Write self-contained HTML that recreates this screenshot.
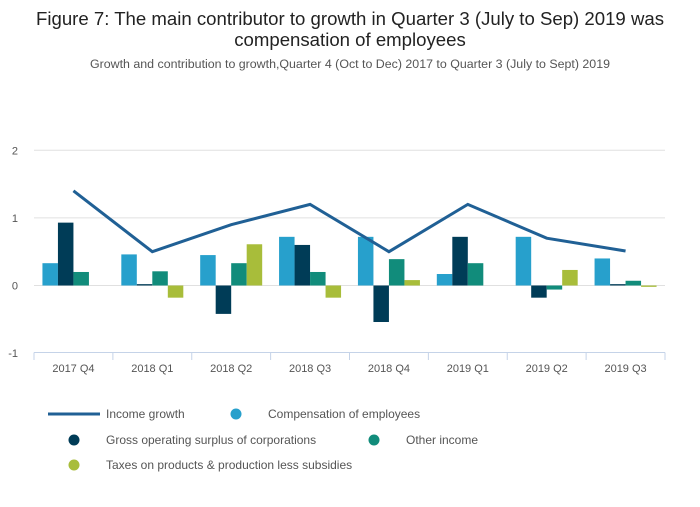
<!DOCTYPE html>
<html><head><meta charset="utf-8"><style>
body{margin:0;background:#fff;font-family:"Liberation Sans",sans-serif;}
svg text{font-family:"Liberation Sans",sans-serif;}
</style></head><body>
<svg id="c" width="700" height="502">
<text x="350" y="25" text-anchor="middle" font-size="18.6" fill="#222">Figure 7: The main contributor to growth in Quarter 3 (July to Sep) 2019 was</text>
<text x="350" y="46" text-anchor="middle" font-size="18.6" fill="#222">compensation of employees</text>
<text x="350" y="68" text-anchor="middle" font-size="12.4" fill="#555">Growth and contribution to growth,Quarter 4 (Oct to Dec) 2017 to Quarter 3 (July to Sept) 2019</text>
<g id="plot"></g>
<g id="legend">
<line x1="48" y1="414" x2="100" y2="414" stroke="#206095" stroke-width="3"/>
<text x="106" y="418" font-size="12" fill="#555">Income growth</text>
<circle cx="236" cy="414" r="5.5" fill="#27a0cc"/>
<text x="268" y="418" font-size="12" fill="#555">Compensation of employees</text>
<circle cx="74" cy="440" r="5.5" fill="#003c57"/>
<text x="106" y="444" font-size="12" fill="#555">Gross operating surplus of corporations</text>
<circle cx="374" cy="440" r="5.5" fill="#118c7b"/>
<text x="406" y="444" font-size="12" fill="#555">Other income</text>
<circle cx="74" cy="465" r="5.5" fill="#a8bd3a"/>
<text x="106" y="469" font-size="12" fill="#555">Taxes on products &amp; production less subsidies</text>
</g>
</svg>
<script>
const categories=["2017 Q4","2018 Q1","2018 Q2","2018 Q3","2018 Q4","2019 Q1","2019 Q2","2019 Q3"];
const compensation=[0.33,0.46,0.45,0.72,0.72,0.17,0.72,0.40];
const gos=[0.93,0.02,-0.42,0.60,-0.54,0.72,-0.18,0.02];
const otherIncome=[0.20,0.21,0.33,0.20,0.39,0.33,-0.06,0.07];
const taxes=[0,-0.18,0.61,-0.18,0.08,0,0.23,-0.02];
const incomeGrowth=[1.4,0.5,0.9,1.2,0.5,1.2,0.7,0.51];
const yTicks=[2,1,0,-1];
const NS="http://www.w3.org/2000/svg";
const g=document.getElementById('plot');
const X0=34,X1=665,Y0=285.5,PX=67.6;
const bw=(X1-X0)/categories.length;
function y(v){return Y0-v*PX;}
function xc(i){return X0+bw*(i+0.5);}
function mk(t,a){const e=document.createElementNS(NS,t);for(const k in a)e.setAttribute(k,a[k]);g.appendChild(e);return e;}
yTicks.forEach(t=>{
  if(t>-1){const l=mk('line',{x1:X0,x2:X1,y1:y(t),y2:y(t),stroke:'#e0e0e0'});
  
  }
  const tx=mk('text',{x:18,y:y(t)+4,'text-anchor':'end','font-size':11,fill:'#555'});tx.textContent=t;
  
  
});
const ax=mk('line',{x1:X0,x2:X1,y1:352.5,y2:352.5,stroke:'#c5d3e8'});


for(let i=0;i<=categories.length;i++){const tk=mk('line',{x1:X0+bw*i,x2:X0+bw*i,y1:352.5,y2:360,stroke:'#c5d3e8'});

}
const series=[[compensation,'#27a0cc','compensation'],[gos,'#003c57','gos'],[otherIncome,'#118c7b','other-income'],[taxes,'#a8bd3a','taxes']];
const barW=15.5;
categories.forEach((c,i)=>{
  const start=xc(i)-barW*2;
  series.forEach((s,j)=>{
    const v=s[0][i];if(v===0)return;
    const r=mk('rect',{x:start+j*barW,y:Math.min(y(v),y(0)),width:barW,height:Math.abs(y(v)-y(0)),fill:s[1]});
    
    
  });
  const t=mk('text',{x:xc(i),y:372,'text-anchor':'middle','font-size':11,fill:'#555'});t.textContent=c;
  
  
});
const pl=mk('polyline',{points:incomeGrowth.map((v,i)=>xc(i)+','+y(v)).join(' '),fill:'none',stroke:'#206095','stroke-width':3});


</script>
</body></html>
